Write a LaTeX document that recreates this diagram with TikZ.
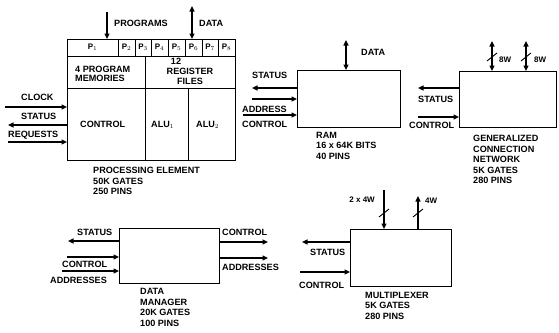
\documentclass[tikz,border=0pt]{standalone}
\usepackage{fontspec}
\setmainfont{Liberation Sans}
\usetikzlibrary{arrows.meta}
\begin{document}
\begin{tikzpicture}[x=1pt,y=-1pt,
  box/.style={draw, line width=1.2pt, inner sep=0pt, anchor=north west},
  lbl/.style={font=\bfseries\fontsize{9.1}{10.5}\selectfont, inner sep=0pt, align=left},
  small/.style={font=\bfseries\fontsize{8}{9}\selectfont, inner sep=0pt},
  arr/.style={line width=1.3pt, -{Triangle[length=5.5pt,width=5pt]}},
  darr/.style={line width=1.3pt, {Triangle[length=5.5pt,width=5pt]}-{Triangle[length=5.5pt,width=5pt]}},
  slash/.style={line width=0.9pt},
  thin/.style={line width=0.9pt}]
\useasboundingbox (0,0) rectangle (559,332);

% ---------------- Processing element ----------------
\node[box, minimum width=168pt, minimum height=121pt] (pe) at (67,39) {};
\draw[thin] (67,56) -- (235,56);
\draw[thin] (67,88) -- (235,88);
\draw[thin] (145,56) -- (145,160);
\draw[thin] (188,88) -- (188,160);
\foreach \xx in {118,135,151,168,185,202,218} \draw[thin] (\xx,39) -- (\xx,56);
\node[small] (p1) at (92.5,47.5) {P$_1$};
\node[small] (p2) at (126.5,47.5) {P$_2$};
\node[small] (p3) at (143,47.5) {P$_3$};
\node[small] (p4) at (159.5,47.5) {P$_4$};
\node[small] (p5) at (176.5,47.5) {P$_5$};
\node[small] (p6) at (193.5,47.5) {P$_6$};
\node[small] (p7) at (210,47.5) {P$_7$};
\node[small] (p8) at (226.5,47.5) {P$_8$};
\node[lbl, anchor=base west] (pm1) at (75,72) {4 PROGRAM};
\node[lbl, anchor=base west] (pm2) at (75,81.5) {MEMORIES};
\node[lbl, anchor=base] (rf1) at (176,64.5) {12};
\node[lbl, anchor=base] (rf2) at (190,74) {REGISTER};
\node[lbl, anchor=base] (rf3) at (190,84) {FILES};
\node[lbl, anchor=base west] (ctl) at (80,127.5) {CONTROL};
\node[lbl, anchor=base west] (alu1) at (151,127.5) {ALU$_1$};
\node[lbl, anchor=base west] (alu2) at (196,127.5) {ALU$_2$};

\coordinate (progtop) at (107,12);
\coordinate (datatop) at (192,6);
\draw[arr] (progtop) -- (progtop |- pe.north);
\draw[darr] (datatop) -- (datatop |- pe.north);
\node[lbl, anchor=base west] (progl) at (114,27) {PROGRAMS};
\node[lbl, anchor=base west] (datal) at (199,26.5) {DATA};

\coordinate (clk) at (5,107);
\coordinate (st) at (8,125);
\coordinate (rq) at (8,142);
\draw[arr] (clk) -- (clk -| pe.west);
\draw[arr] (st -| pe.west) -- (st);
\draw[arr] (rq) -- (rq -| pe.west);
\node[lbl, anchor=base west] (clkl) at (21,100) {CLOCK};
\node[lbl, anchor=base west] (stl) at (21,119.5) {STATUS};
\node[lbl, anchor=base west] (rql) at (8,137) {REQUESTS};
\node[lbl, anchor=north west] (pelbl) at (93,167) {PROCESSING ELEMENT\\50K GATES\\250 PINS};

% ---------------- RAM ----------------
\node[box, minimum width=103pt, minimum height=57pt] (ram) at (297,70) {};
\coordinate (rd) at (346,40);
\draw[darr] (rd) -- (rd |- ram.north);
\node[lbl, anchor=base west] (rdl) at (361,55) {DATA};
\coordinate (rs) at (252,88);
\coordinate (ra) at (252,99);
\coordinate (rc) at (243,115);
\draw[arr] (rs -| ram.west) -- (rs);
\draw[arr] (ra) -- (ra -| ram.west);
\draw[arr] (rc) -- (rc -| ram.west);
\node[lbl, anchor=base west] (rsl) at (252,78.5) {STATUS};
\node[lbl, anchor=base west] (ral) at (242,112) {ADDRESS};
\node[lbl, anchor=base west] (rcl) at (242,127) {CONTROL};
\node[lbl, anchor=north west] (raml) at (316,132) {RAM\\16 x 64K BITS\\40 PINS};

% ---------------- Generalized connection network ----------------
\node[box, minimum width=97pt, minimum height=56pt] (gcn) at (459,71) {};
\coordinate (g1) at (492,41);
\coordinate (g2) at (526,41);
\draw[darr] (g1) -- (g1 |- gcn.north);
\draw[darr] (g2) -- (g2 |- gcn.north);
\draw[slash] (487,61) -- (497,53);
\draw[slash] (521,61) -- (531,53);
\node[small, anchor=base west] (g1l) at (499,62.5) {8W};
\node[small, anchor=base west] (g2l) at (534,62.5) {8W};
\coordinate (gs) at (418,88);
\coordinate (gc) at (418,117);
\draw[arr] (gs -| gcn.west) -- (gs);
\draw[arr] (gc) -- (gc -| gcn.west);
\node[lbl, anchor=base west] (gsl) at (418,102) {STATUS};
\node[lbl, anchor=base west] (gcl) at (409,128.5) {CONTROL};
\node[lbl, anchor=north west] (gcnl) at (473,135.4) {GENERALIZED\\CONNECTION\\NETWORK\\5K GATES\\280 PINS};

% ---------------- Data manager ----------------
\node[box, minimum width=100pt, minimum height=55pt] (dm) at (119,228) {};
\coordinate (ds) at (68,241);
\coordinate (dc) at (67,257);
\coordinate (da) at (62,271);
\coordinate (drc) at (268,242);
\coordinate (dra) at (268,258);
\draw[arr] (ds -| dm.west) -- (ds);
\draw[arr] (dc) -- (dc -| dm.west);
\draw[arr] (da) -- (da -| dm.west);
\draw[arr] (drc -| dm.east) -- (drc);
\draw[arr] (dra -| dm.east) -- (dra);
\node[lbl, anchor=base west] (dsl) at (77,235) {STATUS};
\node[lbl, anchor=base west] (dcl) at (62,267) {CONTROL};
\node[lbl, anchor=base west] (dal) at (50,283.5) {ADDRESSES};
\node[lbl, anchor=base west] (drcl) at (222,235) {CONTROL};
\node[lbl, anchor=base west] (dral) at (222,270) {ADDRESSES};
\node[lbl, anchor=north west] (dml) at (140,288.4) {DATA\\MANAGER\\20K GATES\\100 PINS};

% ---------------- Multiplexer ----------------
\node[box, minimum width=101pt, minimum height=57pt] (mux) at (350,229) {};
\coordinate (m1) at (384,190);
\coordinate (m2) at (418,196);
\draw[arr] (m1) -- (m1 |- mux.north);
\draw[arr] (m2 |- mux.north) -- (m2);
\draw[slash] (379,217) -- (389,209);
\draw[slash] (413,217) -- (423,209);
\node[small, anchor=base east] (m1l) at (375,202) {2 x 4W};
\node[small, anchor=base west] (m2l) at (425,203) {4W};
\coordinate (ms) at (302,242);
\coordinate (mc) at (300,272);
\draw[arr] (ms -| mux.west) -- (ms);
\draw[arr] (mc) -- (mc -| mux.west);
\node[lbl, anchor=base west] (msl) at (310,255) {STATUS};
\node[lbl, anchor=base west] (mcl) at (299,288) {CONTROL};
\node[lbl, anchor=north west] (muxl) at (365,292) {MULTIPLEXER\\5K GATES\\280 PINS};
\end{tikzpicture}
\end{document}
